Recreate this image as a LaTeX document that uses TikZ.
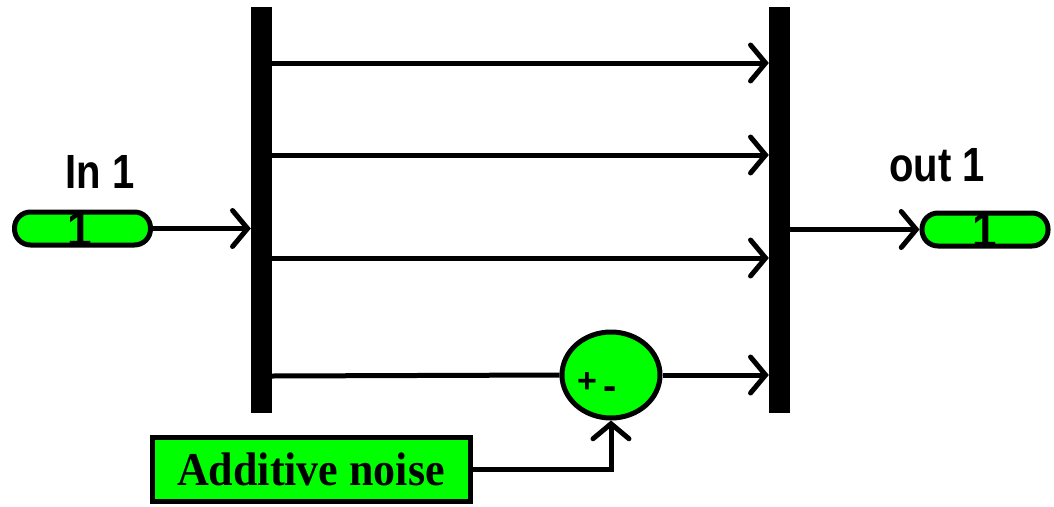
\documentclass[tikz,border=0pt]{standalone}
\usepackage{fontspec}
\setmainfont{Liberation Serif}
\setsansfont{Liberation Sans}
\usetikzlibrary{arrows.meta,shapes.geometric}
\definecolor{pgreen}{RGB}{0,255,0}
\tikzset{
  wire/.style={line width=5pt},
  arr/.style={wire,-{Straight Barb[length=15pt,width=36pt,line cap=round,line width=5pt]}},
  bar/.style={fill=black,draw=none,minimum width=21pt,minimum height=406pt,inner sep=0pt},
  pill/.style={draw=black,fill=pgreen,line width=5pt,rounded corners=16pt,inner sep=0pt,minimum height=33pt},
  lbl/.style={font=\sffamily\bfseries\fontsize{40}{40}\selectfont,inner sep=0pt},
  sgn/.style={font=\sffamily\bfseries\fontsize{#1}{#1}\selectfont,inner sep=0pt},
}
\newcommand{\tallsf}[1]{\scalebox{1}[1.2]{#1}}
\begin{document}
\begin{tikzpicture}[x=1pt,y=-1pt]
\useasboundingbox (0,0) rectangle (1054,506);
\node[bar] (lbar) at (261.5,210) {};
\node[bar] (rbar) at (779.5,210) {};
\node[pill,minimum width=136pt] (inport) at (82.5,228.5) {};
\node[lbl,font=\sffamily\bfseries\fontsize{44}{44}\selectfont] at (80,229) {\scalebox{1}[1.15]{1}};
\node[pill,minimum width=126pt] (outport) at (985,229.5) {};
\node[lbl,font=\sffamily\bfseries\fontsize{44}{44}\selectfont] at (985,230) {\scalebox{1}[1.15]{1}};
\node[lbl] (inlbl) at (100,172) {\tallsf{In 1}};
\node[lbl] (outlbl) at (937,165) {\tallsf{out 1}};
\node[ellipse,draw=black,fill=pgreen,line width=5pt,minimum width=98pt,minimum height=86pt,inner sep=0pt] (sum) at (611,375) {};
\node[sgn=34] (plus) at (587,383) {+};
\node[sgn=40] (minus) at (610,393) {-};
\node[draw=black,fill=pgreen,line width=5pt,minimum width=318pt,minimum height=64pt,inner sep=0pt] (noise) at (311,469) {};
\node[font=\rmfamily\bfseries\fontsize{44}{44}\selectfont,inner sep=0pt] at (noise) {\scalebox{1}[1.07]{Additive noise}};
\coordinate (y1) at (0,63);
\coordinate (y2) at (0,155);
\coordinate (y3) at (0,258);
\coordinate (y4) at (0,376);
\draw[arr] (lbar.east |- y1) -- (rbar.west |- y1);
\draw[arr] (lbar.east |- y2) -- (rbar.west |- y2);
\draw[arr] (lbar.east |- y3) -- (rbar.west |- y3);
\draw[wire] (lbar.east |- y4) -- (sum.west);
\draw[arr] (sum.east) -- (rbar.west |- sum.east);
\draw[arr] (inport.east) -- (lbar.west |- inport.east);
\draw[arr] (rbar.east |- outport.west) -- (outport.west);
\draw[arr] (noise.east) -| (sum.south);
\end{tikzpicture}
\end{document}
